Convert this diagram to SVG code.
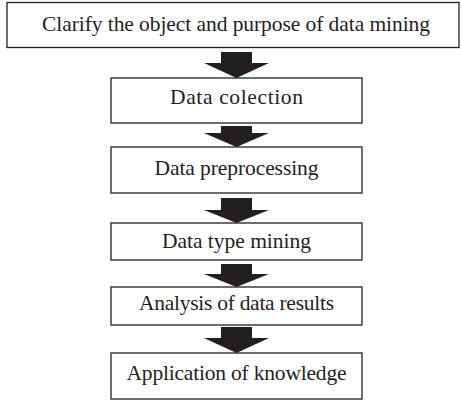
<svg xmlns="http://www.w3.org/2000/svg" width="461" height="402" viewBox="0 0 461 402">
<style>
.box{fill:#fff;stroke:#231f20;stroke-width:1.3}
.lbl{font-family:"Liberation Serif","Times New Roman",serif;font-size:21.5px;fill:#231f20;text-anchor:middle}
.arr{fill:#231f20}
</style>
<rect width="461" height="402" fill="#fff"/>
<g id="n1"><rect class="box" x="7" y="2.5" width="452" height="45"/><text class="lbl" x="236" y="31" textLength="388">Clarify the object and purpose of data mining</text></g>
<g id="n2"><rect class="box" x="111" y="78" width="251" height="45"/><text class="lbl" x="236.5" y="104" textLength="133">Data colection</text></g>
<g id="n3"><rect class="box" x="111" y="147" width="251" height="46"/><text class="lbl" x="236.5" y="175" textLength="164">Data preprocessing</text></g>
<g id="n4"><rect class="box" x="111" y="223" width="251" height="37"/><text class="lbl" x="236.5" y="248" textLength="149">Data type mining</text></g>
<g id="n5"><rect class="box" x="111" y="287" width="251" height="38"/><text class="lbl" x="236.5" y="310" textLength="195">Analysis of data results</text></g>
<g id="n6"><rect class="box" x="111" y="353" width="251" height="46"/><text class="lbl" x="236.5" y="380" textLength="220">Application of knowledge</text></g>
<g id="connectors">
<polygon class="arr" points="221,52 252,52 252,63 269,63 236.5,78 204,63 221,63"/>
<polygon class="arr" points="221,126 252,126 252,133 269,133 236.5,147 204,133 221,133"/>
<polygon class="arr" points="221,198 252,198 252,210 269,210 236.5,223 204,210 221,210"/>
<polygon class="arr" points="221,264 252,264 252,274 269,274 236.5,287 204,274 221,274"/>
<polygon class="arr" points="221,327 252,327 252,338 269,338 236.5,353 204,338 221,338"/>
</g>
</svg>
